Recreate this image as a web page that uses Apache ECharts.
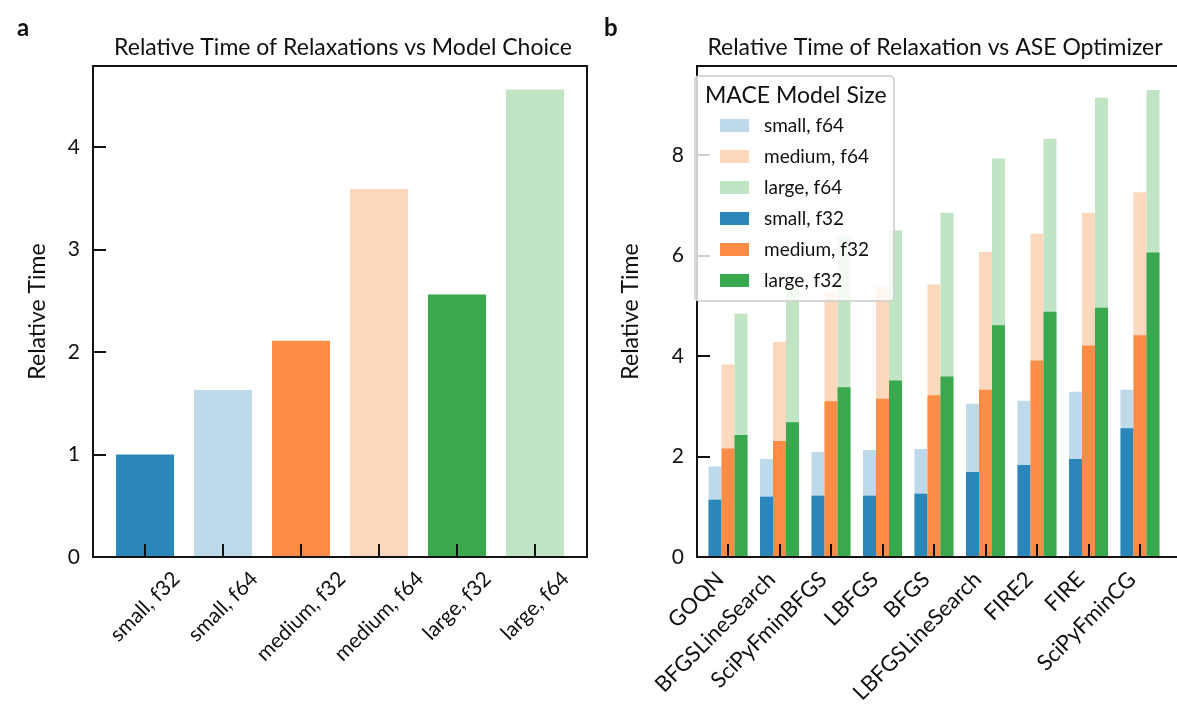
<!DOCTYPE html>
<html>
<head>
<meta charset="utf-8">
<script src="https://cdn.jsdelivr.net/npm/echarts@6/dist/echarts.min.js"></script>
<style>
    html, body { margin: 0; padding: 0; background: #fff; }
    #main { width: 1177px; height: 709px; }
</style>
</head>
<body>
<div id="main"></div>
<script>
// panel a: relative time per model choice
var modelCats = ['small, f32', 'small, f64', 'medium, f32', 'medium, f64', 'large, f32', 'large, f64'];
var modelTimes = [1.00, 1.63, 2.11, 3.59, 2.56, 4.56];

// panel b: relative time per ASE optimizer
var optimizers = ['GOQN', 'BFGSLineSearch', 'SciPyFminBFGS', 'LBFGS', 'BFGS', 'LBFGSLineSearch', 'FIRE2', 'FIRE', 'SciPyFminCG'];
var smallF32 = [1.14, 1.20, 1.22, 1.22, 1.26, 1.69, 1.83, 1.95, 2.56];
var smallF64 = [1.80, 1.95, 2.09, 2.13, 2.15, 3.05, 3.11, 3.29, 3.33];
var mediumF32 = [2.16, 2.31, 3.10, 3.15, 3.22, 3.33, 3.91, 4.21, 4.41];
var mediumF64 = [3.83, 4.28, 5.27, 5.38, 5.42, 6.07, 6.43, 6.85, 7.26];
var largeF32 = [2.43, 2.68, 3.38, 3.51, 3.59, 4.61, 4.88, 4.96, 6.06];
var largeF64 = [4.84, 5.37, 6.37, 6.50, 6.85, 7.93, 8.32, 9.14, 9.29];

var FONT = 'Lato';
var INK = '#111';
var C = {
    smallF32: '#2b87ba', smallF64: '#bdd9ea',
    mediumF32: '#fd8c46', mediumF64: '#fdd8bd',
    largeF32: '#3aa84f', largeF64: '#c1e4c4'
};
var modelColors = [C.smallF32, C.smallF64, C.mediumF32, C.mediumF64, C.largeF32, C.largeF64];

var measureCtx = document.createElement('canvas').getContext('2d');
function textWidth(str, size) {
    measureCtx.font = size + 'px ' + FONT;
    return measureCtx.measureText(str).width;
}

function pairs(arr) {
    return arr.map(function (v, i) { return [i, v]; });
}

function idxOf(v) {
    return Math.abs(v - Math.round(v)) < 1e-6 ? Math.round(v) : -1;
}

function intLabel(v) {
    return idxOf(v) >= 0 ? String(idxOf(v)) : '';
}

function ticks() {
    return {show: true, inside: true, length: 13, lineStyle: {color: INK, width: 2}};
}
function spine() {
    return {show: true, onZero: false, lineStyle: {color: INK, width: 2}};
}

// rotated labels, bounding box centred on the tick (panel a)
function centredLabels(names, size) {
    var rich = {};
    names.forEach(function (n, i) {
        var k = 0.5 * (textWidth(n, size) + size);
        rich['c' + i] = {fontSize: size, fontFamily: FONT, color: INK, padding: [k, k, 0, 0]};
    });
    return {
        rotate: 45, align: 'center', verticalAlign: 'middle', margin: 11,
        fontSize: size, fontFamily: FONT, color: INK, rich: rich,
        formatter: function (v) {
            var i = idxOf(v);
            return (i >= 0 && names[i]) ? '{c' + i + '|' + names[i] + '}' : '';
        }
    };
}

// rotated labels, bounding box right edge on the tick (panel b)
function rightLabels(names, size) {
    return {
        rotate: 45, align: 'right', verticalAlign: 'middle', margin: 11,
        padding: [0, size * 0.5, 0, 0],
        fontSize: size, fontFamily: FONT, color: INK,
        formatter: function (v) {
            var i = idxOf(v);
            return (i >= 0 && names[i]) ? names[i] : '';
        }
    };
}

function xAxisFor(grid, min, max, label, show) {
    return {
        type: 'value', gridIndex: grid, min: min, max: max,
        minInterval: 1, maxInterval: 1,
        show: show, z: 10,
        splitLine: {show: false},
        axisLine: spine(),
        axisTick: ticks(),
        axisLabel: label
    };
}

function yAxisFor(grid, max, interval, gap) {
    return {
        type: 'value', gridIndex: grid, min: 0, max: max, interval: interval, z: 10,
        name: 'Relative Time', nameLocation: 'middle', nameGap: gap,
        nameTextStyle: {fontSize: 23, color: INK, fontFamily: FONT},
        splitLine: {show: false},
        axisLine: spine(),
        axisTick: ticks(),
        axisLabel: {fontSize: 21, color: INK, fontFamily: FONT, margin: 13, formatter: intLabel}
    };
}

function bar(name, data, color, xIdx, z) {
    return {
        name: name, type: 'bar', xAxisIndex: xIdx, yAxisIndex: 1,
        data: pairs(data), barWidth: 13, barGap: '0%', z: z,
        itemStyle: {color: color},
        emphasis: {disabled: true}
    };
}

var chart = echarts.init(document.getElementById('main'));
chart.setOption({
    animation: false,
    textStyle: {fontFamily: FONT},
    title: [
        {text: 'a', left: 12, top: 11, textStyle: {fontSize: 24, fontWeight: 'bold', color: INK, fontFamily: FONT}},
        {text: 'b', left: 599, top: 11, textStyle: {fontSize: 24, fontWeight: 'bold', color: INK, fontFamily: FONT}},
        {text: 'Relative Time of Relaxations vs Model Choice', left: 338, top: 31, textAlign: 'center',
            textStyle: {fontSize: 23, fontWeight: 'normal', color: INK, fontFamily: FONT}},
        {text: 'Relative Time of Relaxation vs ASE Optimizer', left: 930, top: 31, textAlign: 'center',
            textStyle: {fontSize: 23, fontWeight: 'normal', color: INK, fontFamily: FONT}},
        {text: 'MACE Model Size', left: 700, top: 79, z: 12,
            textStyle: {fontSize: 23, fontWeight: 'normal', color: INK, fontFamily: FONT}}
    ],
    legend: {
        data: ['small, f64', 'medium, f64', 'large, f64', 'small, f32', 'medium, f32', 'large, f32'],
        orient: 'vertical', left: 695, top: 76, z: 11,
        padding: [40, 25, 11, 25],
        itemWidth: 29, itemHeight: 13, itemGap: 12,
        icon: 'rect',
        backgroundColor: 'rgba(255,255,255,0.8)',
        borderColor: '#cccccc', borderWidth: 1.5, borderRadius: 4,
        textStyle: {fontSize: 19, lineHeight: 19, color: INK, fontFamily: FONT, padding: [0, 0, 0, 10]},
        selectedMode: false
    },
    grid: [
        {left: 93, top: 66, width: 494, height: 491, show: true, borderColor: INK, borderWidth: 2,
            backgroundColor: 'transparent', outerBoundsMode: 'none'},
        {left: 697, top: 66, width: 490, height: 491, show: true, borderColor: INK, borderWidth: 2,
            backgroundColor: 'transparent', outerBoundsMode: 'none'}
    ],
    xAxis: [
        xAxisFor(0, -0.667, 5.667, centredLabels(modelCats, 21), true),
        xAxisFor(1, -0.602, 8.913, rightLabels(optimizers, 22), true),
        xAxisFor(1, -0.602, 8.913, rightLabels(optimizers, 22), false)
    ],
    yAxis: [
        yAxisFor(0, 4.79, 1, 44),
        yAxisFor(1, 9.77, 2, 55)
    ],
    series: [
        {
            type: 'bar', xAxisIndex: 0, yAxisIndex: 0, barWidth: 58,
            data: modelTimes.map(function (v, i) {
                return {value: [i, v], itemStyle: {color: modelColors[i]}};
            }),
            emphasis: {disabled: true}
        },
        bar('small, f64', smallF64, C.smallF64, 2, 2),
        bar('medium, f64', mediumF64, C.mediumF64, 2, 2),
        bar('large, f64', largeF64, C.largeF64, 2, 2),
        bar('small, f32', smallF32, C.smallF32, 1, 3),
        bar('medium, f32', mediumF32, C.mediumF32, 1, 3),
        bar('large, f32', largeF32, C.largeF32, 1, 3)
    ]
});
</script>
</body>
</html>
